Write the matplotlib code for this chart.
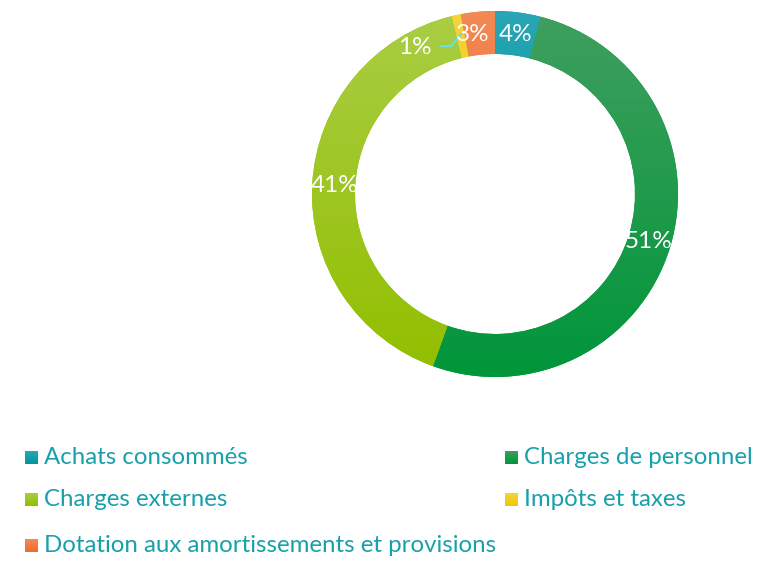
import numpy as np
import matplotlib.pyplot as plt
from matplotlib.colors import LinearSegmentedColormap

plt.rcParams['font.family'] = ['Lato', 'DejaVu Sans']

labels = ['Achats consommés', 'Charges de personnel', 'Charges externes',
          'Impôts et taxes', 'Dotation aux amortissements et provisions']
values = [4.0, 51.5, 40.7, 0.8, 3.0]
pct_text = ['4%', '51%', '41%', '1%', '3%']
top_colors = ['#2aa6b4', '#3f9f5e', '#a9cd44', '#f4d43c', '#f28a55']
bot_colors = ['#00959f', '#00963a', '#93bf00', '#f0c800', '#ef6c2c']
text_col = '#17a0ab'

W, H = 760, 561
fig = plt.figure(figsize=(7.6, 5.61), dpi=100)
ax = fig.add_axes([0, 0, 1, 1])
ax.set_xlim(0, W)
ax.set_ylim(0, H)
ax.set_aspect('equal')
ax.axis('off')

cx, cy = 495, H - 194
R = 183
ring = 43

wedges, _ = ax.pie(values, center=(cx, cy), radius=R, startangle=90,
                   counterclock=False, wedgeprops=dict(width=ring, linewidth=0))
ax.set_xlim(0, W)
ax.set_ylim(0, H)

grad = np.linspace(1, 0, 256).reshape(-1, 1)
for w, c0, c1 in zip(wedges, top_colors, bot_colors):
    v = w.get_path().vertices
    x0, x1 = v[:, 0].min(), v[:, 0].max()
    y0, y1 = v[:, 1].min(), v[:, 1].max()
    cmap = LinearSegmentedColormap.from_list('g', [c1, c0])
    im = ax.imshow(grad, cmap=cmap, extent=[x0, x1, y0, y1], aspect='auto',
                   origin='upper', zorder=2)
    im.set_clip_path(w)
    w.set_facecolor(c1)

# percentage labels
cum = np.cumsum([0] + values)
rmid = R - ring / 2 - 1
for i, t in enumerate(pct_text):
    mid = (cum[i] + cum[i + 1]) / 2 / 100 * 2 * np.pi
    ang = np.pi / 2 - mid
    if t == '1%':
        # outside label with leader line
        px, py = cx + rmid * np.cos(ang), cy + rmid * np.sin(ang) + 3
        ax.plot([px, px - 10, px - 21], [py, py - 12, py - 12],
                color='#66e0e6', lw=1.6, zorder=4, solid_capstyle='round')
        ax.text(px - 29, py - 13, t, color='white', fontsize=17.5,
                ha='right', va='center', zorder=5)
        continue
    dx = -7 if t == '3%' else 0
    ax.text(cx + rmid * np.cos(ang) + dx, cy + rmid * np.sin(ang), t,
            color='white', fontsize=17.5, ha='center', va='center', zorder=5)

# legend
pos = [(25, 458), (505, 458), (25, 500), (505, 500), (25, 546)]
for (lx, ly), lab, c0, c1 in zip(pos, labels, top_colors, bot_colors):
    yy = H - ly
    cmap = LinearSegmentedColormap.from_list('g', [c1, c0])
    ax.imshow(grad, cmap=cmap, extent=[lx, lx + 13, yy - 6, yy + 7],
              aspect='auto', origin='upper', zorder=2)
    ax.text(lx + 19, yy, lab, color=text_col, fontsize=17.3, ha='left', va='center')

ax.set_xlim(0, W)
ax.set_ylim(0, H)
fig.savefig('out.png', dpi=100)
